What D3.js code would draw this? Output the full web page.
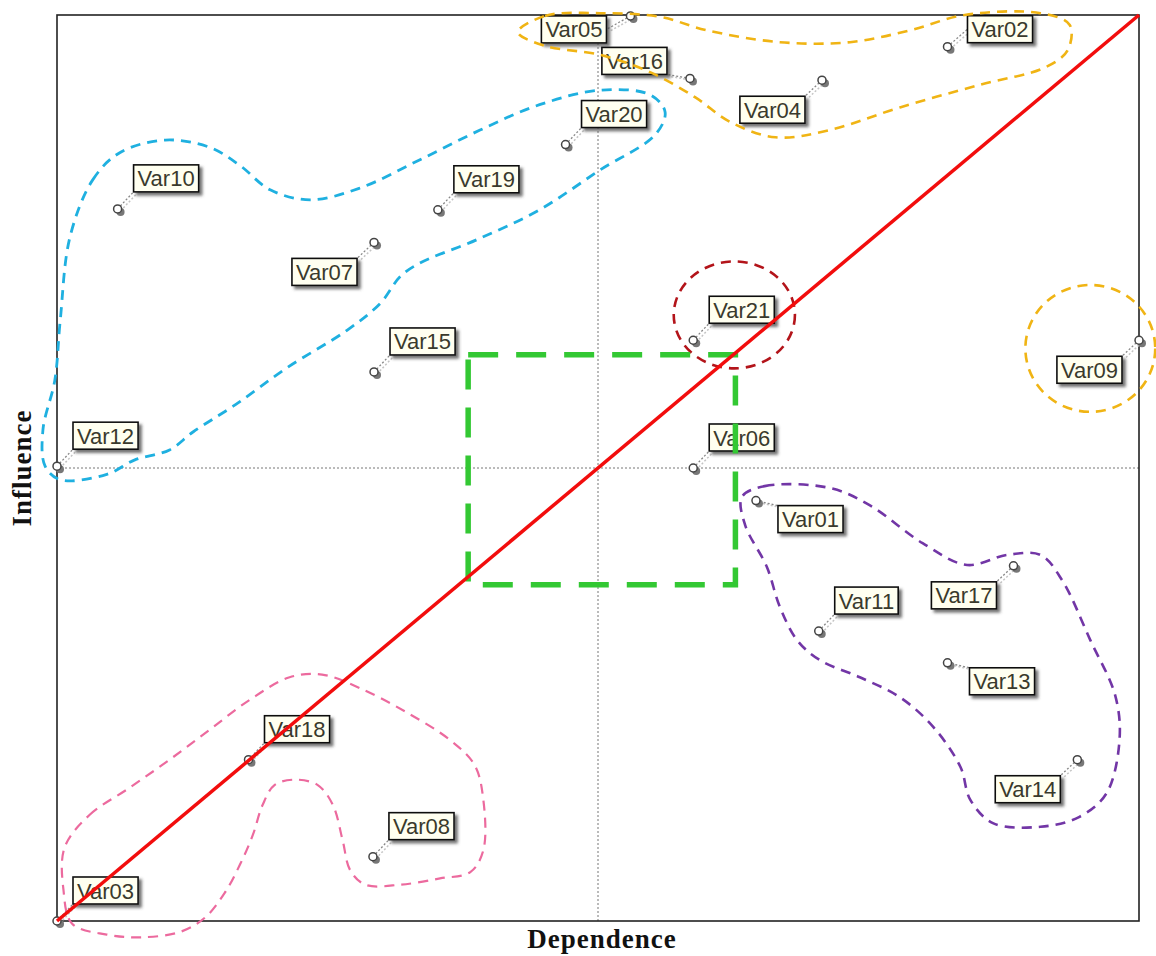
<!DOCTYPE html>
<html>
<head>
<meta charset="utf-8">
<script src="https://cdn.jsdelivr.net/npm/d3@7"></script>
<style>
  body { margin: 0; background: #fff; }
  svg { display: block; }
  .lbl text { font-family: "Liberation Sans", Arial, sans-serif; font-size: 22px; fill: #3a3a2c; }
  .title { font-family: "Liberation Serif", "Times New Roman", serif; font-weight: bold; font-size: 27px; fill: #111; letter-spacing: 1px; }
</style>
</head>
<body>
<div id="chart"></div>
<script>
// variables of the structural analysis (dependence, influence) in % of max
var varNames = ["Var01", "Var02", "Var03", "Var04", "Var05", "Var06", "Var07", "Var08", "Var09", "Var10", "Var11",
                "Var12", "Var13", "Var14", "Var15", "Var16", "Var17", "Var18", "Var19", "Var20", "Var21"];
var dependence = [64.6, 82.3, 0, 70.7, 53.0, 58.8, 29.3, 29.2, 100, 5.6, 70.4,
                  0, 82.3, 94.3, 29.3, 58.5, 88.4, 17.7, 35.2, 47.0, 58.8];
var influence  = [46.4, 96.5, 0, 92.8, 99.9, 50.0, 74.9, 7.1, 64.1, 78.6, 32.0,
                  50.2, 28.5, 17.8, 60.6, 93.0, 39.2, 17.8, 78.5, 85.7, 64.1];
// where the label sits relative to its point
var labelSide  = ["se", "e", "ne", "sw", "w", "ne", "sw", "ne", "sw", "ne", "ne",
                  "ne", "se", "sw", "ne", "nw", "sw", "ne", "ne", "ne", "ne"];

// hand drawn cluster outlines (dependence, influence)
var clusterGold = [[42.6, 98.1], [45.1, 99.9], [50.2, 100.2], [55.7, 99.8], [60.1, 98.3], [66.8, 97.0], [73.3, 97.0],
                   [78.8, 98.3], [83.9, 100.0], [90.9, 100.2], [93.6, 98.9], [93.4, 96.1], [91.3, 94.2], [85.3, 92.3],
                   [77.9, 89.8], [71.4, 87.3], [66.4, 86.5], [62.2, 88.2], [59.0, 90.9], [54.8, 93.7], [50.2, 95.6], [45.1, 96.6]];
var clusterBlue = [[1.2, 75.5], [3.3, 81.8], [5.8, 84.8], [10.0, 86.2], [14.1, 85.4], [16.9, 83.4], [19.7, 80.7], [23.4, 79.6],
                   [28.0, 80.9], [33.5, 84.0], [39.1, 87.3], [44.6, 90.1], [50.2, 91.7], [54.8, 91.2], [56.2, 89.3], [55.3, 86.8],
                   [50.2, 82.9], [44.6, 78.5], [38.8, 75.2], [33.5, 72.6], [31.7, 71.1], [29.9, 68.2], [26.8, 65.2], [21.3, 61.1],
                   [16.5, 57.0], [12.6, 54.0], [10.4, 52.0], [7.2, 50.9], [4.6, 49.3], [0.3, 48.7], [-1.1, 50.2], [-1.3, 54.2],
                   [-0.2, 59.7], [0.3, 66.3]];
var clusterPurple = [[63.3, 46.8], [65.4, 48.0], [71.4, 47.8], [75.1, 45.9], [80.0, 41.7], [84.1, 39.3], [87.8, 40.4],
                     [90.9, 40.4], [92.9, 37.6], [95.5, 31.0], [97.8, 24.9], [98.2, 20.0], [97.0, 14.1], [94.5, 11.5],
                     [90.9, 10.4], [86.5, 10.8], [84.4, 13.4], [83.5, 17.0], [81.0, 21.4], [77.9, 24.7], [74.2, 26.9],
                     [70.5, 28.8], [68.4, 31.0], [66.8, 34.7], [65.6, 39.1], [63.6, 43.7]];
var clusterPink = [[0.7, 8.1], [3.0, 11.7], [6.7, 14.7], [10.4, 17.8], [14.1, 21.1], [17.8, 24.4], [21.5, 26.9], [24.5, 27.2],
                   [28.0, 25.7], [32.2, 23.1], [36.3, 20.0], [38.6, 17.2], [39.4, 13.4], [39.4, 7.8], [38.2, 5.4], [35.4, 4.7],
                   [31.7, 4.0], [28.5, 4.0], [27.1, 5.6], [26.4, 8.9], [25.5, 12.8], [24.1, 15.0], [22.0, 15.6], [20.1, 15.0],
                   [19.0, 12.8], [18.1, 9.5], [16.9, 6.2], [15.5, 3.1], [13.7, 0.4], [11.4, -1.2], [7.7, -1.8], [4.6, -1.5],
                   [1.4, -0.3], [0.6, 3.4]];
// ellipses: [cx, cy, rx, ry]
var ringVar21 = [62.6, 66.9, 5.6, 5.9];
var ringVar09 = [95.5, 63.2, 6.0, 7.0];
// central zone: [x0, x1, y0, y1]
var centralZone = [38.0, 62.7, 37.1, 62.5];

var W = 1156, H = 956;
var frame = { left: 57, right: 1139, top: 15, bottom: 921 };

var svg = d3.select("#chart").append("svg")
    .attr("width", W)
    .attr("height", H);

var defs = svg.append("defs");
var shadow = defs.append("filter").attr("id", "shadow")
    .attr("x", "-20%").attr("y", "-20%").attr("width", "150%").attr("height", "160%");
shadow.append("feDropShadow")
    .attr("dx", 3).attr("dy", 3).attr("stdDeviation", 1.6)
    .attr("flood-color", "#444").attr("flood-opacity", 0.75);

var xScale = d3.scaleLinear().domain([0, 100]).range([frame.left, frame.right]);
var yScale = d3.scaleLinear().domain([0, 100]).range([frame.bottom, frame.top]);

// quadrant lines
svg.append("line")
    .attr("x1", xScale(50)).attr("x2", xScale(50))
    .attr("y1", yScale(0)).attr("y2", yScale(100))
    .attr("stroke", "#777").attr("stroke-width", 1).attr("stroke-dasharray", "2,2");
svg.append("line")
    .attr("x1", xScale(0)).attr("x2", xScale(100))
    .attr("y1", yScale(50)).attr("y2", yScale(50))
    .attr("stroke", "#777").attr("stroke-width", 1).attr("stroke-dasharray", "2,2");

// frame
svg.append("rect")
    .attr("x", xScale(0)).attr("y", yScale(100))
    .attr("width", xScale(100) - xScale(0))
    .attr("height", yScale(0) - yScale(100))
    .attr("fill", "none").attr("stroke", "#222").attr("stroke-width", 1.6);

// ----- points + labels -----
var pts = varNames.map(function (d, i) {
    return { name: d, x: dependence[i], y: influence[i], side: labelSide[i] };
});

var labelGroup = svg.append("g");

pts.forEach(function (p) {
    var px = xScale(p.x), py = yScale(p.y);
    var g = labelGroup.append("g").attr("class", "lbl");

    // text first to measure it
    var box = g.append("rect");
    var txt = g.append("text").text(p.name);
    var tw = txt.node().getComputedTextLength();
    var bw = tw + 8, bh = 27;

    var bx, by;
    if (p.side == "ne") { bx = px + 16; by = py - 17 - bh; }
    else if (p.side == "se") { bx = px + 22; by = py + 5; }
    else if (p.side == "sw") { bx = px - 17 - bw; by = py + 16; }
    else if (p.side == "w") { bx = px - 24 - bw; by = py; }
    else if (p.side == "nw") { bx = px - 23 - bw; by = py - 4 - bh; }
    else { bx = px + 20; by = py - 4 - bh; } // "e"

    // leader anchor = nearest box corner
    var ax = (bx > px) ? bx : bx + bw;
    var ay = (by > py) ? by : by + bh;
    if (p.side == "w" || p.side == "e") { ay = by + bh / 2; }

    // leader (dotted with its shadow)
    g.insert("line", "rect")
        .attr("x1", px + 3).attr("y1", py + 2).attr("x2", ax + 3).attr("y2", ay + 2)
        .attr("stroke", "#c4c4c4").attr("stroke-width", 1.5).attr("stroke-dasharray", "2,2");
    g.insert("line", "rect")
        .attr("x1", px).attr("y1", py).attr("x2", ax).attr("y2", ay)
        .attr("stroke", "#888").attr("stroke-width", 1.3).attr("stroke-dasharray", "2,2");

    box.attr("x", bx).attr("y", by).attr("width", bw).attr("height", bh)
        .attr("fill", "#fffff0").attr("stroke", "#111").attr("stroke-width", 1.6)
        .attr("filter", "url(#shadow)");
    txt.attr("x", bx + 4).attr("y", by + bh / 2 + 8);

    // marker with its shadow
    g.append("circle").attr("cx", px + 3).attr("cy", py + 3).attr("r", 4)
        .attr("fill", "#777");
    g.append("circle").attr("cx", px).attr("cy", py).attr("r", 4)
        .attr("fill", "#fff").attr("stroke", "#444").attr("stroke-width", 1.5);
});

// ----- cluster outlines -----
var outline = d3.line()
    .x(function (d) { return xScale(d[0]); })
    .y(function (d) { return yScale(d[1]); })
    .curve(d3.curveCatmullRomClosed.alpha(0.5));

var clusters = [
    { pts: clusterGold, color: "#f0b414", w: 2.6 },
    { pts: clusterBlue, color: "#1fb0e0", w: 2.8 },
    { pts: clusterPurple, color: "#7236a6", w: 2.6 },
    { pts: clusterPink, color: "#ec6a9e", w: 2.2 }
];
clusters.forEach(function (c) {
    svg.append("path")
        .attr("d", outline(c.pts))
        .attr("fill", "none")
        .attr("stroke", c.color)
        .attr("stroke-width", c.w)
        .attr("stroke-dasharray", "10,7");
});

var rings = [
    { r: ringVar21, color: "#b3141a" },
    { r: ringVar09, color: "#f0b414" }
];
rings.forEach(function (c) {
    svg.append("ellipse")
        .attr("cx", xScale(c.r[0])).attr("cy", yScale(c.r[1]))
        .attr("rx", xScale(c.r[2]) - xScale(0))
        .attr("ry", yScale(0) - yScale(c.r[3]))
        .attr("fill", "none").attr("stroke", c.color)
        .attr("stroke-width", 2.6).attr("stroke-dasharray", "10,7");
});

// central zone
svg.append("rect")
    .attr("x", xScale(centralZone[0])).attr("y", yScale(centralZone[3]))
    .attr("width", xScale(centralZone[1]) - xScale(centralZone[0]))
    .attr("height", yScale(centralZone[2]) - yScale(centralZone[3]))
    .attr("fill", "none").attr("stroke", "#33c833")
    .attr("stroke-width", 5.5).attr("stroke-dasharray", "30,18");

// diagonal
svg.append("line")
    .attr("x1", xScale(0)).attr("y1", yScale(0))
    .attr("x2", xScale(100)).attr("y2", yScale(100))
    .attr("stroke", "#f20d0d").attr("stroke-width", 3.5);

// axis titles
svg.append("text").attr("class", "title")
    .attr("x", 602).attr("y", 948)
    .attr("text-anchor", "middle")
    .text("Dependence");
svg.append("text").attr("class", "title")
    .attr("transform", "translate(31," + yScale(50) + ") rotate(-90)")
    .attr("text-anchor", "middle")
    .text("Influence");
</script>
</body>
</html>
